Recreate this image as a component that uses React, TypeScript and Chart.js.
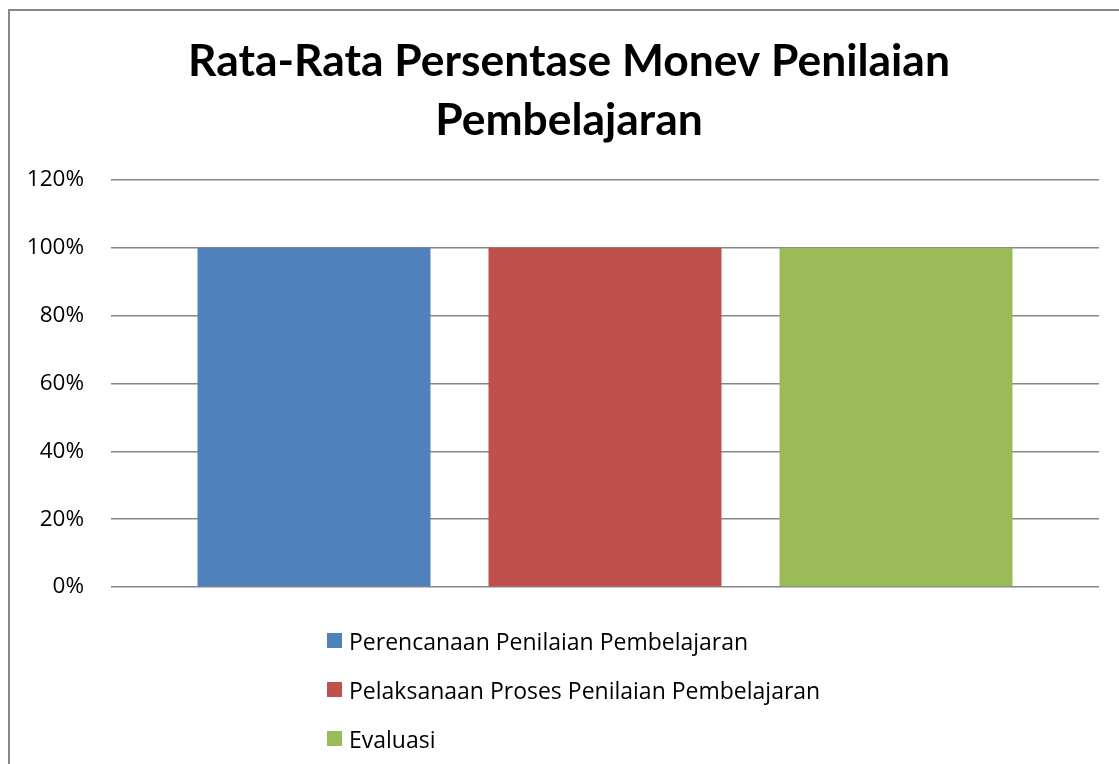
import React, { useEffect, useRef } from "react";
import { Chart, registerables } from "chart.js";

Chart.register(...registerables);

const categories = [""];
const seriesNames = [
  "Perencanaan Penilaian Pembelajaran",
  "Pelaksanaan Proses Penilaian Pembelajaran",
  "Evaluasi",
];
const perencanaanValues = [100];
const pelaksanaanValues = [100];
const evaluasiValues = [100];
const seriesColors = ["#4F81BD", "#C0504D", "#9BBB59"];
const titleLines = ["Rata-Rata Persentase Monev Penilaian", "Pembelajaran"];
const yTickMax = 120;
const yTickStep = 20;

const TITLE_FONT = "Lato, 'Open Sans', sans-serif";
const FONT = "'Open Sans', Lato, sans-serif";

const verticalLegend = {
  id: "verticalLegend",
  afterDraw(chart: any) {
    const ctx = chart.ctx;
    const area = chart.chartArea;
    ctx.save();
    chart.data.datasets.forEach((ds: any, i: number) => {
      const y = area.bottom + 53.5 + i * 49;
      const x = area.left + 216;
      ctx.fillStyle = ds.backgroundColor;
      ctx.fillRect(x, y - 7.5, 15, 15);
      ctx.fillStyle = "#000000";
      ctx.font = `23px ${FONT}`;
      ctx.textBaseline = "alphabetic";
      ctx.textAlign = "left";
      ctx.fillText(ds.label, x + 22, y + 9);
    });
    ctx.restore();
  },
};

const shiftTitle = {
  id: "shiftTitle",
  afterLayout(chart: any) {
    const t = chart.titleBlock;
    if (t) {
      t.left += 10;
      t.right += 10;
    }
  },
};

export default function App() {
  const ref = useRef<HTMLCanvasElement>(null);
  useEffect(() => {
    if (!ref.current) return;
    const values = [perencanaanValues, pelaksanaanValues, evaluasiValues];
    const chart = new Chart(ref.current, {
      type: "bar",
      data: {
        labels: categories,
        datasets: seriesNames.map((name, i) => ({
          label: name,
          data: values[i],
          backgroundColor: seriesColors[i],
          borderWidth: 0,
          categoryPercentage: 0.8836,
          barPercentage: 0.8007,
        })),
      },
      options: {
        animation: false,
        responsive: true,
        maintainAspectRatio: false,
        layout: { padding: { left: 9, right: 20, top: 0, bottom: 177 } },
        plugins: {
          legend: { display: false },
          tooltip: { enabled: false },
          title: {
            display: true,
            text: titleLines,
            color: "#000000",
            font: { family: TITLE_FONT, size: 44.4, weight: "bold", lineHeight: 59 / 44.4 },
            padding: { top: 21.5, bottom: 29.5 },
          },
        },
        scales: {
          x: { display: false },
          y: {
            min: 0,
            max: yTickMax,
            afterFit(scale: any) {
              scale.width = 92;
            },
            ticks: {
              stepSize: yTickStep,
              padding: 27,
              color: "#000000",
              font: { family: FONT, size: 22.5 },
              callback: (v: any) => `${v}%`,
            },
            border: { display: false },
            grid: { color: "#868686", lineWidth: 1.5, drawTicks: false },
          },
        },
      },
      plugins: [verticalLegend, shiftTitle],
    });
    return () => chart.destroy();
  }, []);
  return (
    <div
      style={{
        position: "fixed",
        left: 8,
        top: 9,
        width: 1111,
        height: 755,
        borderLeft: "2px solid #878787",
        borderTop: "2px solid #878787",
        background: "#ffffff",
        boxSizing: "border-box",
      }}
    >
      <div style={{ position: "relative", width: 1109, height: 753 }}>
        <canvas ref={ref} />
      </div>
    </div>
  );
}
